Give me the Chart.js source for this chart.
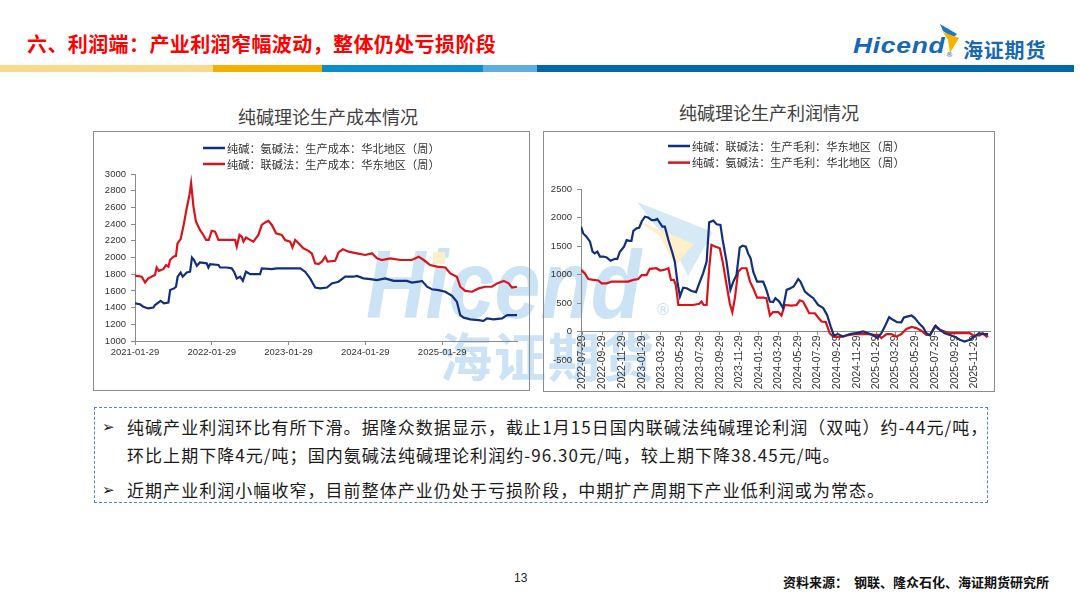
<!DOCTYPE html>
<html>
<head>
<meta charset="UTF-8">
<title>六、利润端：产业利润窄幅波动，整体仍处亏损阶段</title>
<script src="https://cdn.jsdelivr.net/npm/chart.js"></script>
<style>
    body { margin: 0; width: 1080px; height: 607px; position: relative; overflow: hidden; background: #fff;
           font-family: "Noto Sans CJK SC", sans-serif; color: #1a1a1a; }
    .abs { position: absolute; }
    .page-title { left: 27px; top: 29px; font-size: 20px; font-weight: bold; color: #ff0000; letter-spacing: 0.4px; white-space: nowrap; }
    .bar { top: 65px; height: 7px; }
    .chart-title { font-size: 18px; color: #404040; white-space: nowrap; transform: translateX(-50%); }
    .box { border: 1px solid #8c8c8c; box-sizing: border-box; }
    .box canvas { display: block; }
    .wm-en { left: 366px; top: 237px; font: italic bold 96px/96px "Liberation Sans", sans-serif; color: #cbe3f4;
             transform: scaleX(0.86); transform-origin: left top; white-space: nowrap; }
    .wm-cn { left: 440px; top: 329px; font-size: 52px; line-height: 52px; font-weight: bold; color: #cbe3f4; letter-spacing: 2px; white-space: nowrap; }
    .note { left: 94px; top: 407px; width: 894px; height: 96px; border: 1px dashed #5b84c9; box-sizing: border-box; }
    .line { left: 127px; font-size: 17px; line-height: 22px; letter-spacing: 1.05px; white-space: nowrap; color: #1a1a1a; }
    .bullet { left: 102px; font: bold 15px/22px "DejaVu Sans", sans-serif; color: #1a1a1a; }
</style>
</head>
<body>
    <div class="abs page-title">六、利润端：产业利润窄幅波动，整体仍处亏损阶段</div>

    <!-- logo -->
    <div class="abs" style="left:853px; top:32px; font: italic bold 22px/28px 'Liberation Sans', sans-serif; color:#1668b2; letter-spacing:0.6px; transform: scaleX(1.2); transform-origin: left top;">Hicend</div>
    <div class="abs" style="left:946px; top:51px; font: 7px/8px 'DejaVu Sans', sans-serif; color:#1668b2;">®</div>
    <div class="abs" style="left:963px; top:39px; font-size:20px; line-height:22px; font-weight:bold; color:#1668b2; letter-spacing:0.8px;">海证期货</div>
    <svg class="abs" style="left:0; top:0;" width="1080" height="80">
        <polygon points="940,24 957,34 953,38 943,31" fill="#1f78c1"/>
        <polygon points="943,32 959,38 950,53 948,40" fill="#f5b400"/>
    </svg>

    <!-- colour bar -->
    <div class="abs bar" style="left:0; width:213px; background:#fbd98a;"></div>
    <div class="abs bar" style="left:213px; width:109px; background:#f4b000;"></div>
    <div class="abs bar" style="left:322px; width:161px; background:#0b8ccb;"></div>
    <div class="abs bar" style="left:483px; width:54px; background:#5eaee0;"></div>
    <div class="abs bar" style="left:537px; width:537px; background:#0068a6;"></div>

    <!-- watermark, sits under the charts -->
    <div class="abs wm-en">Hicend</div>
    <div class="abs" style="left:655px; top:302px; font: 16px/16px 'DejaVu Sans', sans-serif; color:#cbe3f4;">®</div>
    <div class="abs wm-cn">海证期货</div>
    <svg class="abs" style="left:0; top:0;" width="1080" height="400">
        <polygon points="637,202 713,232 688,276 676,252" fill="#d6eaf6"/>
        <polygon points="632,218 694,244 675,266 660,236" fill="#fcefc9"/>
        <rect x="433" y="252" width="12" height="12" fill="#fcefc9"/>
    </svg>

    <div class="abs chart-title" style="left:328px; top:103px;">纯碱理论生产成本情况</div>
    <div class="abs chart-title" style="left:769px; top:99px;">纯碱理论生产利润情况</div>

    <div class="abs box" style="left:93px; top:131px; width:437px; height:260px;">
        <canvas id="costChart" width="435" height="258"></canvas>
    </div>
    <div class="abs box" style="left:543px; top:131px; width:452px; height:261px;">
        <canvas id="profitChart" width="450" height="259"></canvas>
    </div>

    <div class="abs note"></div>
    <div class="abs bullet" style="top:416px;">➢</div>
    <div class="abs line" style="top:416px;">纯碱产业利润环比有所下滑。据隆众数据显示，截止1月15日国内联碱法纯碱理论利润（双吨）约-44元/吨，</div>
    <div class="abs line" style="top:444px;">环比上期下降4元/吨；国内氨碱法纯碱理论利润约-96.30元/吨，较上期下降38.45元/吨。</div>
    <div class="abs bullet" style="top:479px;">➢</div>
    <div class="abs line" style="top:479px;">近期产业利润小幅收窄，目前整体产业仍处于亏损阶段，中期扩产周期下产业低利润或为常态。</div>

    <div class="abs" style="left:514px; top:571px; font: 12px/14px 'Liberation Sans', sans-serif; color:#222;">13</div>
    <div class="abs" style="left:783px; top:574px; font-size:13px; line-height:16px; font-weight:bold; color:#111; white-space:nowrap;">资料来源：&nbsp;&nbsp;钢联、隆众石化、海证期货研究所</div>

<script>
    // 成本图：x 为距 2021-01-29 的天数
    const costTicks = ['2021-01-29', '2022-01-29', '2023-01-29', '2024-01-29', '2025-01-29'];
    const costNorthLabel = '纯碱：氨碱法：生产成本：华北地区（周）';
    const costNorthDays = [0, 24, 40, 63, 87, 95, 111, 122, 138, 159, 167, 186, 195, 203, 217, 227, 246, 262, 271, 281,
        294, 309, 341, 349, 357, 397, 405, 436, 460, 471, 484, 500, 513, 528, 548, 595, 603, 651, 674, 786,
        809, 833, 857, 881, 913, 936, 968, 1000, 1039, 1055, 1087, 1119, 1151, 1190, 1230, 1293, 1317, 1349, 1365, 1389,
        1412, 1444, 1476, 1508, 1531, 1547, 1563, 1595, 1635, 1658, 1674, 1706, 1746, 1770, 1789, 1817];
    const costNorth = [1450, 1440, 1410, 1390, 1400, 1430, 1460, 1480, 1450, 1460, 1610, 1630, 1650, 1770, 1820, 1770, 1820, 1830, 2000, 1970,
        1900, 1940, 1930, 1880, 1920, 1910, 1880, 1880, 1870, 1830, 1750, 1770, 1720, 1830, 1800, 1800, 1870, 1860, 1870, 1870,
        1830, 1750, 1640, 1630, 1640, 1690, 1710, 1770, 1770, 1780, 1750, 1740, 1730, 1750, 1720, 1720, 1700, 1710, 1720, 1650,
        1620, 1610, 1590, 1540, 1470, 1310, 1280, 1260, 1250, 1240, 1270, 1260, 1270, 1310, 1310, 1310];
    const costEastLabel = '纯碱：联碱法：生产成本：华东地区（周）';
    const costEastDays = [0, 32, 48, 63, 95, 103, 114, 135, 148, 159, 167, 183, 195, 202, 217, 230, 246, 259, 267, 278,
        290, 309, 325, 338, 351, 365, 381, 397, 421, 476, 484, 497, 508, 516, 528, 541, 563, 587, 603, 619,
        635, 651, 671, 698, 714, 738, 749, 762, 778, 801, 825, 841, 857, 873, 889, 905, 916, 952, 968, 989,
        1016, 1055, 1095, 1127, 1151, 1174, 1214, 1262, 1317, 1349, 1373, 1404, 1436, 1476, 1500, 1531, 1547, 1571, 1603, 1635,
        1666, 1698, 1722, 1754, 1777, 1793, 1817];
    const costEast = [1784, 1770, 1700, 1750, 1790, 1880, 1840, 1860, 1910, 1890, 1970, 2010, 2020, 2170, 2220, 2370, 2590, 2750, 2890, 2610,
        2430, 2330, 2270, 2210, 2210, 2320, 2310, 2210, 2210, 2210, 2130, 2270, 2250, 2190, 2240, 2220, 2190, 2270, 2390, 2420,
        2440, 2390, 2290, 2270, 2210, 2190, 2120, 2210, 2170, 2110, 2080, 2050, 1930, 1920, 1950, 2010, 1950, 1960, 2060, 2100,
        2070, 2050, 2030, 2050, 1990, 1970, 1990, 1970, 1970, 2010, 1970, 1910, 1890, 1880, 1810, 1770, 1650, 1600, 1590, 1630,
        1650, 1650, 1690, 1720, 1690, 1640, 1650];

    // 利润图：x 为距 2022-07-29 的天数
    const profitTicks = ['2022-07-29', '2022-09-29', '2022-11-29', '2023-01-29', '2023-03-29', '2023-05-29', '2023-07-29',
        '2023-09-29', '2023-11-29', '2024-01-29', '2024-03-29', '2024-05-29', '2024-07-29', '2024-09-29', '2024-11-29',
        '2025-01-29', '2025-03-29', '2025-05-29', '2025-07-29', '2025-09-29', '2025-11-29'];
    const profitEastLabel = '纯碱：联碱法：生产毛利：华东地区（周）';
    const profitEastDays = [-5, 2, 12, 23, 31, 38, 46, 54, 64, 75, 87, 101, 108, 116, 129, 137, 145, 152, 158, 168,
        176, 184, 194, 204, 215, 225, 232, 241, 248, 256, 267, 280, 287, 295, 303, 313, 324, 339, 353, 363,
        375, 386, 394, 407, 417, 429, 436, 448, 460, 469, 479, 489, 498, 508, 515, 523, 531, 543, 562, 572,
        583, 593, 600, 612, 624, 635, 647, 657, 671, 678, 692, 705, 718, 733, 749, 761, 772, 782, 795, 811,
        832, 850, 873, 889, 904, 917, 930, 941, 954, 966, 979, 992, 1000, 1013, 1024, 1034, 1049, 1060, 1070, 1081,
        1091, 1099, 1112, 1127, 1143, 1158, 1174, 1189, 1205, 1220, 1234, 1246, 1262];
    const profitEast = [1840, 1720, 1665, 1575, 1400, 1370, 1400, 1315, 1315, 1300, 1240, 1275, 1275, 1400, 1490, 1605, 1590, 1590, 1765, 1810,
        1820, 1930, 2015, 2000, 1955, 1955, 1975, 1900, 1840, 1840, 1605, 1370, 1225, 875, 615, 770, 760, 710, 690, 845,
        1020, 1225, 1915, 1945, 1880, 1870, 1605, 1225, 730, 875, 990, 1470, 1505, 1490, 1370, 1285, 1050, 875, 875, 730,
        525, 515, 585, 525, 410, 730, 760, 790, 920, 875, 700, 640, 585, 465, 410, 290, 90, -70, -45, -90,
        -45, -30, 0, -30, -60, -115, -30, 90, 250, 205, 165, 160, 245, 265, 280, 235, 130, 70, -30, -70,
        30, 100, 30, -30, -60, -90, -145, -175, -145, -90, -30, -45, -45];
    const profitNorthLabel = '纯碱：氨碱法：生产毛利：华北地区（周）';
    const profitNorthDays = [-5, 7, 18, 33, 49, 59, 75, 90, 111, 142, 158, 173, 184, 199, 209, 230, 241, 253, 267, 275,
        284, 290, 298, 313, 344, 363, 370, 377, 386, 394, 401, 412, 427, 436, 448, 458, 466, 474, 484, 495,
        510, 521, 531, 543, 562, 572, 583, 593, 609, 619, 629, 650, 666, 676, 686, 697, 705, 723, 733, 744,
        757, 769, 780, 801, 821, 847, 873, 889, 904, 920, 930, 946, 961, 977, 992, 1008, 1024, 1039, 1055, 1070,
        1081, 1096, 1112, 1127, 1143, 1164, 1189, 1205, 1216, 1236, 1246, 1257, 1262];
    const profitNorth = [1080, 1020, 920, 905, 895, 845, 845, 875, 875, 875, 905, 920, 990, 990, 1100, 1110, 1070, 1080, 1110, 905,
        905, 820, 465, 465, 465, 485, 525, 465, 465, 1110, 1520, 1490, 1460, 1225, 820, 495, 340, 585, 1050, 1110,
        1110, 875, 760, 595, 595, 585, 280, 340, 340, 280, 465, 455, 465, 545, 525, 410, 320, 320, 245, 175,
        165, -30, -90, -100, -70, -45, -45, -45, -60, -60, -115, -45, -45, -90, -45, 45, 80, 60, 10, -60,
        -60, 90, 30, 0, -30, -30, -30, -30, -70, -70, -30, -90, -70];

    const BLUE = '#122f7c';
    const RED = '#d7141c';
    const AXIS = '#8a8a8a';
    const TICK_FONT = { family: 'Liberation Sans', size: 9.5 };

    function daysFrom(start, d) {
        return Math.round((Date.parse(d) - Date.parse(start)) / 86400000);
    }
    function points(xs, ys) {
        return xs.map((x, i) => ({ x: x, y: ys[i] }));
    }
    function lineSet(label, xs, ys, color) {
        return { label: label, data: points(xs, ys), borderColor: color, backgroundColor: color,
                 borderWidth: 2.2, pointRadius: 0, tension: 0, fill: false };
    }

    // 图例：竖排两行，左对齐
    const lineLegend = {
        id: 'lineLegend',
        afterDraw(chart, args, opts) {
            const ctx = chart.ctx;
            ctx.save();
            ctx.font = opts.size + 'px "Noto Sans CJK SC"';
            ctx.textBaseline = 'middle';
            chart.data.datasets.forEach((ds, i) => {
                const y = opts.y + i * opts.gap;
                ctx.strokeStyle = ds.borderColor;
                ctx.lineWidth = 2.5;
                ctx.beginPath();
                ctx.moveTo(opts.x, y);
                ctx.lineTo(opts.x + 22, y);
                ctx.stroke();
                ctx.fillStyle = '#333';
                ctx.fillText(ds.label, opts.x + 24, y + 0.5);
            });
            ctx.restore();
        }
    };

    new Chart(document.getElementById('costChart'), {
        type: 'line',
        data: {
            datasets: [
                lineSet(costNorthLabel, costNorthDays, costNorth, BLUE),
                lineSet(costEastLabel, costEastDays, costEast, RED)
            ]
        },
        options: {
            responsive: false,
            animation: false,
            layout: { padding: { left: 0, top: 42, right: 12, bottom: 0 } },
            plugins: {
                legend: { display: false },
                tooltip: { enabled: false },
                lineLegend: { x: 109, y: 16, gap: 16, size: 11.2 }
            },
            scales: {
                x: {
                    type: 'linear',
                    min: 0,
                    max: 1817,
                    afterFit: s => { s.height = 49; },
                    afterBuildTicks: s => { s.ticks = costTicks.map(d => ({ value: daysFrom(costTicks[0], d) })); },
                    grid: { drawOnChartArea: false, drawTicks: true, tickLength: 4, color: AXIS },
                    border: { color: AXIS },
                    ticks: { autoSkip: false, maxRotation: 0, minRotation: 0, padding: 2, color: '#333', font: TICK_FONT,
                             callback: (v, i) => costTicks[i] }
                },
                y: {
                    min: 1000,
                    max: 3000,
                    afterFit: s => { s.width = 41; },
                    grid: { drawOnChartArea: false, drawTicks: true, tickLength: 4, color: AXIS },
                    border: { color: AXIS },
                    ticks: { stepSize: 200, padding: 5, color: '#333', font: TICK_FONT, callback: v => String(v) }
                }
            }
        },
        plugins: [lineLegend]
    });

    new Chart(document.getElementById('profitChart'), {
        type: 'line',
        data: {
            datasets: [
                lineSet(profitEastLabel, profitEastDays, profitEast, BLUE),
                lineSet(profitNorthLabel, profitNorthDays, profitNorth, RED)
            ]
        },
        options: {
            responsive: false,
            animation: false,
            layout: { padding: { left: 0, top: 57, right: 4, bottom: 31 } },
            plugins: {
                legend: { display: false },
                tooltip: { enabled: false },
                lineLegend: { x: 124, y: 14, gap: 16.6, size: 11.2 }
            },
            scales: {
                x: {
                    type: 'linear',
                    min: -5,
                    max: 1268,
                    position: { y: 0 },
                    afterBuildTicks: s => { s.ticks = profitTicks.map(d => ({ value: daysFrom(profitTicks[0], d) })); },
                    grid: { drawOnChartArea: false, drawTicks: true, tickLength: 3, color: AXIS },
                    border: { color: AXIS },
                    ticks: { autoSkip: false, maxRotation: 90, minRotation: 90, padding: 1, color: '#333',
                             font: { family: 'Liberation Sans', size: 10.5 },
                             callback: (v, i) => profitTicks[i] }
                },
                y: {
                    min: -500,
                    max: 2500,
                    afterFit: s => { s.width = 37; },
                    grid: { drawOnChartArea: false, drawTicks: true, tickLength: 4, color: AXIS },
                    border: { color: AXIS },
                    ticks: { stepSize: 500, padding: 5, color: '#333', font: TICK_FONT, callback: v => String(v) }
                }
            }
        },
        plugins: [lineLegend]
    });
</script>
</body>
</html>
